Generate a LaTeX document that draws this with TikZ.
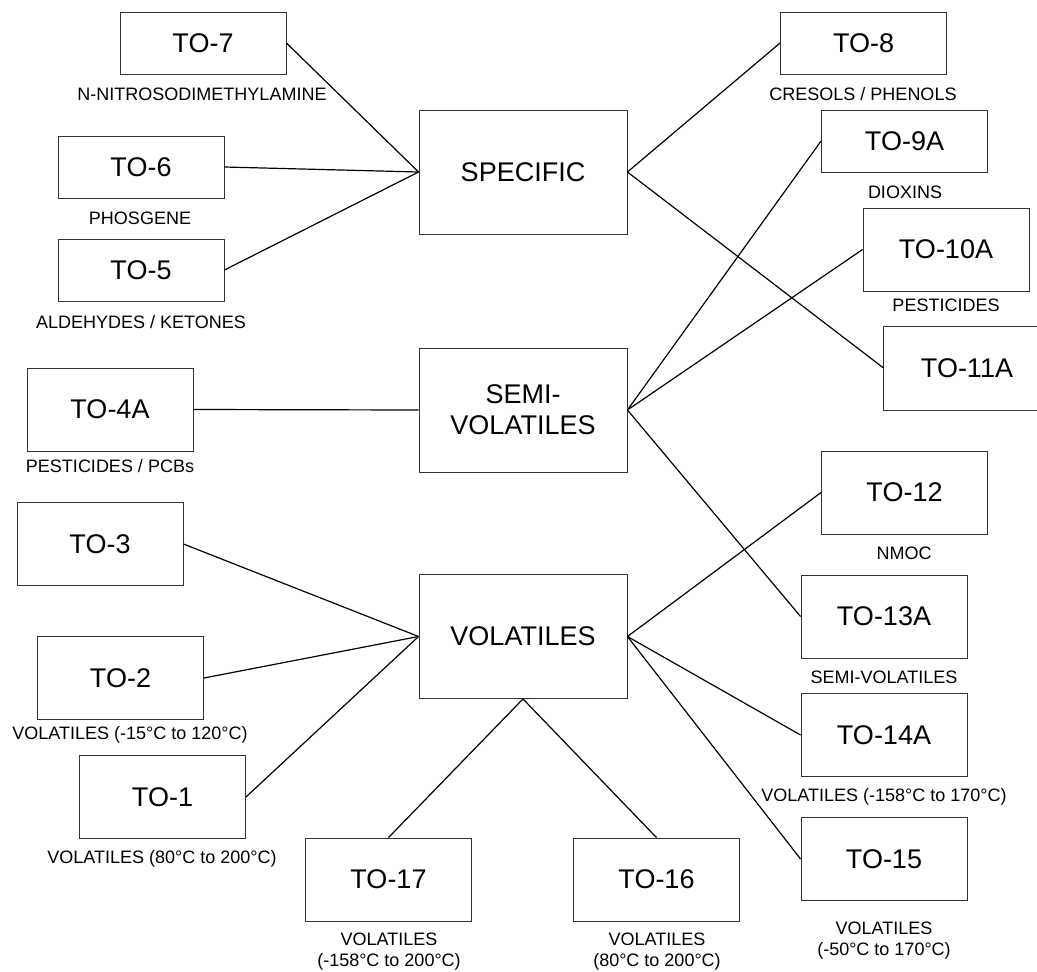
\documentclass[tikz,border=0pt]{standalone}
\usepackage{fontspec}
\setmainfont{Liberation Sans}
\begin{document}
\begin{tikzpicture}[x=1pt,y=-1pt,
  box/.style={draw=black!80, line width=0.9pt, inner sep=0pt, fill=white,
    font=\fontsize{27}{31}\selectfont, align=center},
  sbox/.style={box, minimum width=166pt, minimum height=62pt},
  tbox/.style={box, minimum width=166pt, minimum height=83pt},
  bbox/.style={box, minimum width=208pt, minimum height=124pt},
  edge/.style={draw=black!80, line width=0.9pt},
  lbl/.style={inner sep=0pt, font=\fontsize{18}{21}\selectfont, align=center},
  conn/.style={line width=1.2pt, black}]
\useasboundingbox (0,0) rectangle (1037,972);
\fill[white] (0,0) rectangle (1037,972);
\clip (0,0) rectangle (1037,972);
% big boxes
\node[bbox] (spec) at (523,172) {SPECIFIC};
\node[bbox] (semi) at (523,410) {SEMI-\\VOLATILES};
\node[bbox] (vol) at (523,636.5) {VOLATILES};
% left side
\node[sbox] (to7) at (203,43) {TO-7};
\node[sbox] (to6) at (141,167) {TO-6};
\node[sbox] (to5) at (141,270) {TO-5};
\node[tbox] (to4a) at (110,409.5) {TO-4A};
\node[tbox] (to3) at (100,544) {TO-3};
\node[tbox] (to2) at (120.5,678) {TO-2};
\node[tbox] (to1) at (162.5,797) {TO-1};
% bottom
\node[tbox] (to17) at (388.5,879.5) {TO-17};
\node[tbox] (to16) at (656.5,879.5) {TO-16};
% right side
\node[sbox] (to8) at (863.5,43) {TO-8};
\node[sbox] (to9a) at (904.5,141) {TO-9A};
\node[tbox] (to10a) at (946,249.5) {TO-10A};
\node[tbox, draw=none] (to11a) at (967,368) {TO-11A};
\draw[edge] (to11a.north east) -- (to11a.north west) -- (to11a.south west) -- (to11a.south east);
\node[tbox] (to12) at (904.5,492.5) {TO-12};
\node[tbox] (to13a) at (884,616.5) {TO-13A};
\node[tbox] (to14a) at (884,735) {TO-14A};
\node[tbox] (to15) at (884,859) {TO-15};
% labels
\node[lbl] (l7) at (202,94) {N-NITROSODIMETHYLAMINE};
\node[lbl] (l6) at (140,218) {PHOSGENE};
\node[lbl] (l5) at (141,322) {ALDEHYDES / KETONES};
\node[lbl] (l4a) at (110,466) {PESTICIDES / PCBs};
\node[lbl] (l2) at (130,735) {VOLATILES (-15°C to 120°C)};
\node[lbl] (l1) at (162,859) {VOLATILES (80°C to 200°C)};
\node[lbl] (l17) at (389,952) {VOLATILES\\(-158°C to 200°C)};
\node[lbl] (l16) at (657,952) {VOLATILES\\(80°C to 200°C)};
\node[lbl] (l8) at (863,94) {CRESOLS / PHENOLS};
\node[lbl] (l9a) at (905,192) {DIOXINS};
\node[lbl] (l10a) at (946,305) {PESTICIDES};
\node[lbl] (l12) at (904,553) {NMOC};
\node[lbl] (l13a) at (884,677) {SEMI-VOLATILES};
\node[lbl] (l14a) at (884,797) {VOLATILES (-158°C to 170°C)};
\node[lbl] (l15) at (884,941) {VOLATILES\\(-50°C to 170°C)};
% connectors
\draw[conn] (to7.east) -- (spec.west);
\draw[conn] (to6.east) -- (spec.west);
\draw[conn] (to5.east) -- (spec.west);
\draw[conn] (spec.east) -- (to8.west);
\draw[conn] (spec.east) -- (to11a.west);
\draw[conn] (to4a.east) -- (semi.west);
\draw[conn] (semi.east) -- (to9a.west);
\draw[conn] (semi.east) -- (to10a.west);
\draw[conn] (semi.east) -- (to13a.west);
\draw[conn] (to3.east) -- (vol.west);
\draw[conn] (to2.east) -- (vol.west);
\draw[conn] (to1.east) -- (vol.west);
\draw[conn] (vol.east) -- (to12.west);
\draw[conn] (vol.east) -- (to14a.west);
\draw[conn] (vol.east) -- (to15.west);
\draw[conn] (vol.south) -- (to17.north);
\draw[conn] (vol.south) -- (to16.north);
\end{tikzpicture}
\end{document}
